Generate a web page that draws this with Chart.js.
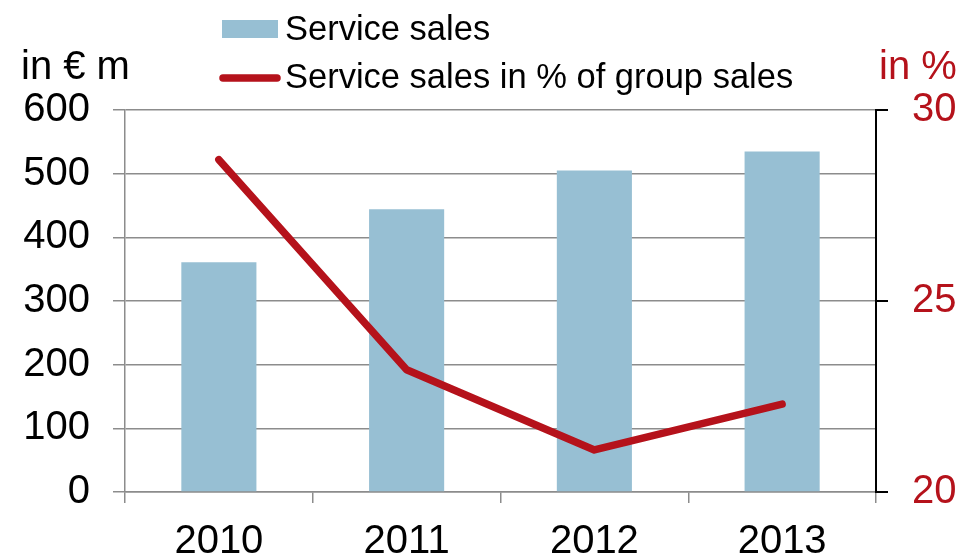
<!DOCTYPE html>
<html>
<head>
<meta charset="utf-8">
<script src="https://cdn.jsdelivr.net/npm/chart.js@4/dist/chart.umd.min.js"></script>
<style>
  html, body { margin: 0; padding: 0; background: #fff; }
  #chart { display: block; }
</style>
</head>
<body>
<canvas id="chart" width="962" height="554"></canvas>
<script>
// Chart data
const years = ['2010', '2011', '2012', '2013'];
const serviceSales = [361, 444, 505, 535];          // in € m
const shareOfGroup = [28.7, 23.2, 21.1, 22.3];       // in %
const leftTicks = [0, 100, 200, 300, 400, 500, 600];
const rightTicks = [20, 25, 30];

const BLUE = '#97bfd3';
const RED = '#b5121b';
const GRID = '#8c8c8c';
const FONT = "'Liberation Sans', Arial, sans-serif";

// Draws the stacked legend and the two unit labels
const overlay = {
  id: 'overlay',
  afterDraw(chart) {
    const ctx = chart.ctx;
    ctx.save();
    ctx.textBaseline = 'alphabetic';
    ctx.textAlign = 'left';

    ctx.font = '40px ' + FONT;
    ctx.fillStyle = '#000';
    ctx.fillText('in € m', 21, 79);
    ctx.fillStyle = RED;
    ctx.fillText('in %', 879, 79);

    const bars = chart.data.datasets[1];
    const line = chart.data.datasets[0];
    ctx.font = '34.5px ' + FONT;

    ctx.fillStyle = bars.backgroundColor;
    ctx.fillRect(222, 20, 56, 18);
    ctx.fillStyle = '#000';
    ctx.fillText(bars.label, 285, 40);

    ctx.strokeStyle = line.borderColor;
    ctx.lineWidth = 7.5;
    ctx.lineCap = 'round';
    ctx.beginPath();
    ctx.moveTo(223, 78);
    ctx.lineTo(277, 78);
    ctx.stroke();
    ctx.fillStyle = '#000';
    ctx.fillText(line.label, 285, 88);

    ctx.restore();
  }
};

new Chart(document.getElementById('chart'), {
  type: 'bar',
  data: {
    labels: years,
    datasets: [
      {
        type: 'line',
        label: 'Service sales in % of group sales',
        data: shareOfGroup,
        yAxisID: 'y1',
        borderColor: RED,
        borderWidth: 7.5,
        borderCapStyle: 'round',
        borderJoinStyle: 'round',
        pointRadius: 0,
        tension: 0,
        order: 0
      },
      {
        type: 'bar',
        label: 'Service sales',
        data: serviceSales,
        yAxisID: 'y',
        backgroundColor: BLUE,
        barPercentage: 0.4,
        categoryPercentage: 1,
        order: 1
      }
    ]
  },
  options: {
    responsive: false,
    animation: false,
    layout: { padding: { top: 110, left: 0, right: 0, bottom: 0 } },
    plugins: {
      legend: { display: false },
      tooltip: { enabled: false }
    },
    scales: {
      x: {
        offset: true,
        grid: {
          offset: true,
          drawOnChartArea: false,
          color: GRID,
          lineWidth: 1.5,
          tickLength: 11
        },
        border: { color: GRID, width: 1.5 },
        ticks: { color: '#000', font: { family: FONT, size: 40 }, padding: 15 },
        afterFit(scale) { scale.height = 62; }
      },
      y: {
        position: 'left',
        min: 0,
        max: 600,
        afterBuildTicks(scale) { scale.ticks = leftTicks.map(v => ({ value: v })); },
        grid: { color: GRID, lineWidth: 1.5, tickLength: 12 },
        border: { color: GRID, width: 1.5 },
        ticks: { color: '#000', font: { family: FONT, size: 40 }, padding: 23 },
        afterFit(scale) { scale.width = 125; }
      },
      y1: {
        position: 'right',
        min: 20,
        max: 30,
        afterBuildTicks(scale) { scale.ticks = rightTicks.map(v => ({ value: v })); },
        grid: { drawOnChartArea: false, color: '#000', lineWidth: 2, tickLength: 12 },
        border: { color: '#000', width: 2 },
        ticks: { color: RED, font: { family: FONT, size: 40 }, padding: 24 },
        afterFit(scale) { scale.width = 86; }
      }
    }
  },
  plugins: [overlay]
});
</script>
</body>
</html>
